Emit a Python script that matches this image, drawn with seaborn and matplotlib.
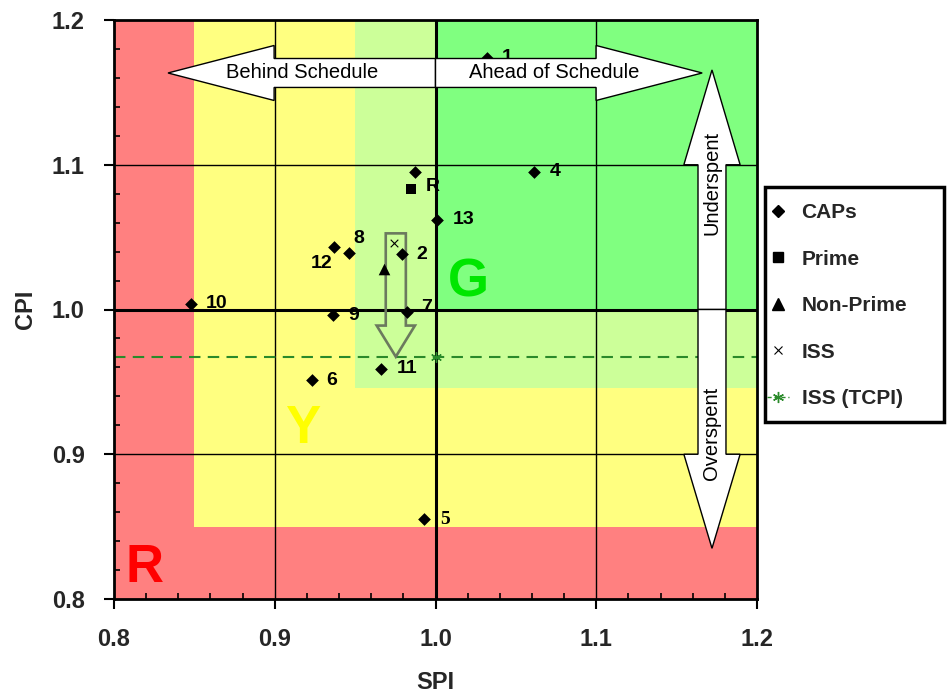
import numpy as np
import pandas as pd
import matplotlib
matplotlib.use("Agg")
import matplotlib.pyplot as plt
import seaborn as sns
from matplotlib.patches import Rectangle, FancyArrow
from matplotlib.lines import Line2D
from matplotlib.ticker import MultipleLocator

# ---------------- data ----------------
cap_labels = ["1", "2", "4", "5", "6", "7", "8", "9", "10", "11", "12", "13", ""]
cap_spi = [1.032, 0.979, 1.061, 0.993, 0.923, 0.982, 0.946, 0.936, 0.848, 0.966, 0.937, 1.001, 0.987]
cap_cpi = [1.174, 1.038, 1.095, 0.855, 0.951, 0.998, 1.039, 0.996, 1.004, 0.959, 1.043, 1.062, 1.095]

prime_labels = ["R"]
prime_spi = [0.985]
prime_cpi = [1.083]

nonprime_spi = [0.968]
nonprime_cpi = [1.028]

iss_spi = [0.974]
iss_cpi = [1.046]

tcpi_spi = [1.000]
tcpi_cpi = [0.967]

legend_labels = ["CAPs", "Prime", "Non-Prime", "ISS", "ISS (TCPI)"]
x_ticks = [0.8, 0.9, 1.0, 1.1, 1.2]
y_ticks = [0.8, 0.9, 1.0, 1.1, 1.2]
x_tick_labels = ["0.8", "0.9", "1.0", "1.1", "1.2"]
y_tick_labels = ["0.8", "0.9", "1.0", "1.1", "1.2"]

# zone thresholds (lower-left corner of each zone, extends to upper-right)
zone_spi = [0.80, 0.85, 0.95, 1.00]
zone_cpi = [0.80, 0.85, 0.946, 1.00]
zone_colors = ["#ff8080", "#ffff80", "#ccff99", "#80ff80"]
zone_letters = ["R", "Y", "G"]

# ISS trend (start CPI -> TCPI)
trend_spi = 0.9753
trend_cpi_start = 1.0526
trend_cpi_end = 0.9674

# ---------------- styling ----------------
sns.set_theme(style="white")
plt.rcParams['font.family'] = ['Liberation Sans', 'DejaVu Sans']

W, H = 949, 695
fig = plt.figure(figsize=(W / 100, H / 100), dpi=100)
ax = fig.add_axes([114 / W, 96 / H, 643 / W, 579 / H])
ax.set_xlim(0.8, 1.2)
ax.set_ylim(0.8, 1.2)

# background zones
for x0, y0, c in zip(zone_spi, zone_cpi, zone_colors):
    ax.add_patch(Rectangle((x0, y0), 1.2 - x0, 1.2 - y0, facecolor=c,
                           edgecolor='none', zorder=0))

# grid lines
for v in x_ticks[1:-1]:
    ax.axvline(v, color='black', lw=2.2 if v == 1.0 else 1.0, zorder=1)
for v in y_ticks[1:-1]:
    ax.axhline(v, color='black', lw=2.2 if v == 1.0 else 1.0, zorder=1)

# TCPI dashed line
green = '#2a8a2a'
ax.axhline(tcpi_cpi[0], color=green, lw=1.5, ls=(0, (5.5, 3.5)), zorder=2)

# ISS trend arrow (outline)
ax.add_patch(FancyArrow(trend_spi, trend_cpi_start, 0, trend_cpi_end - trend_cpi_start,
                        width=0.0125, head_width=0.0238, head_length=0.0215,
                        length_includes_head=True, fill=False,
                        edgecolor='#6b7a5e', lw=1.9, zorder=2.5))

# points
sns.scatterplot(x=cap_spi, y=cap_cpi, marker='D', s=42, color='black',
                edgecolor='black', linewidth=0, zorder=3, ax=ax, legend=False)
sns.scatterplot(x=prime_spi, y=prime_cpi, marker='s', s=60, color='black',
                edgecolor='black', linewidth=0, zorder=3, ax=ax, legend=False)
sns.scatterplot(x=nonprime_spi, y=nonprime_cpi, marker='^', s=70, color='black',
                edgecolor='black', linewidth=0, zorder=3, ax=ax, legend=False)
sns.scatterplot(x=iss_spi, y=iss_cpi, marker='x', s=30, color='black',
                linewidth=0.8, zorder=3, ax=ax, legend=False)
sns.scatterplot(x=tcpi_spi, y=tcpi_cpi, marker=(6, 2, 0), s=50, color=green,
                linewidth=1.0, zorder=3, ax=ax, legend=False)

# point labels (offsets in pixels)
label_offsets = {"1": (15, 0), "2": (15, 0), "4": (16, 0), "5": (16, 0),
                 "6": (15, 0), "7": (15, 5), "8": (5, 15), "9": (16, 0),
                 "10": (15, 0), "11": (16, 0), "12": (-2, -16), "13": (16, 0),
                 "R": (14, 3)}
lab_kw = dict(fontsize=14, fontweight='bold', color='black', va='center',
              textcoords='offset points', zorder=3)
for lab, xs, ys in zip(cap_labels, cap_spi, cap_cpi):
    if not lab:
        continue
    dx, dy = label_offsets[lab]
    ha = 'right' if lab == "12" else 'left'
    kw = dict(lab_kw)
    if lab == "5":
        kw['family'] = ['Liberation Serif']
    ax.annotate(lab, (xs, ys), xytext=(dx * 0.72, dy * 0.72), ha=ha, **kw)
for lab, xs, ys in zip(prime_labels, prime_spi, prime_cpi):
    dx, dy = label_offsets[lab]
    ax.annotate(lab, (xs, ys), xytext=(dx * 0.72, dy * 0.72), ha='left', **lab_kw)

# zone letters
ax.text(1.0206, 1.0187, zone_letters[2], color='#00e600', fontsize=38,
        fontweight='bold', ha='center', va='center', zorder=2)
ax.text(0.9176, 0.9174, zone_letters[1], color='#ffff00', fontsize=38,
        fontweight='bold', ha='center', va='center', zorder=2)
ax.text(0.819, 0.8215, zone_letters[0], color='#ff0000', fontsize=38,
        fontweight='bold', ha='center', va='center', zorder=2)

# schedule / cost arrows
arr_kw = dict(length_includes_head=True, facecolor='white', edgecolor='black',
              lw=1.0, zorder=5)
hy = 1.1634
ax.add_patch(FancyArrow(1.0, hy, 0.8336 - 1.0, 0, width=0.02, head_width=0.038,
                        head_length=0.066, **arr_kw))
ax.add_patch(FancyArrow(1.0, hy, 1.1659 - 1.0, 0, width=0.02, head_width=0.038,
                        head_length=0.066, **arr_kw))
vx = 1.172
ax.add_patch(FancyArrow(vx, 1.0, 0, 1.1655 - 1.0, width=0.0174, head_width=0.035,
                        head_length=0.0655, **arr_kw))
ax.add_patch(FancyArrow(vx, 1.0, 0, 0.835 - 1.0, width=0.0174, head_width=0.035,
                        head_length=0.065, **arr_kw))
txt_kw = dict(fontsize=14.5, color='black', ha='center', va='center', zorder=6)
ax.text(0.9173, hy, "Behind Schedule", **txt_kw)
ax.text(1.0738, hy, "Ahead of Schedule", **txt_kw)
ax.text(vx, 1.0877, "Underspent", rotation=90, **txt_kw)
ax.text(vx, 0.9147, "Overspent", rotation=90, **txt_kw)

# axes / ticks
ax.set_xticks(x_ticks)
ax.set_xticklabels(x_tick_labels)
ax.set_yticks(y_ticks)
ax.set_yticklabels(y_tick_labels)
ax.xaxis.set_minor_locator(MultipleLocator(0.02))
ax.yaxis.set_minor_locator(MultipleLocator(0.02))
ax.tick_params(which='major', direction='out', length=7, width=1.5,
               color='black', labelsize=17, pad=14, bottom=True, left=True)
ax.tick_params(which='minor', direction='in', length=4, width=1.2,
               color='black', bottom=True, left=True)
for t in ax.get_xticklabels() + ax.get_yticklabels():
    t.set_fontweight('bold')
for s in ax.spines.values():
    s.set_visible(True)
    s.set_color('black')
    s.set_linewidth(2.0)
    s.set_zorder(7)

ax.set_xlabel("SPI", fontsize=17, fontweight='bold')
ax.set_ylabel("CPI", fontsize=17, fontweight='bold')
ax.xaxis.set_label_coords(0.5, -0.124)
ax.yaxis.set_label_coords(-0.12, 0.5)

# legend
handles = [
    Line2D([], [], marker='D', color='black', ls='none', markersize=6),
    Line2D([], [], marker='s', color='black', ls='none', markersize=7.5),
    Line2D([], [], marker='^', color='black', ls='none', markersize=8),
    Line2D([], [], marker='x', color='black', ls='none', markersize=6, mew=0.8),
    Line2D([], [], marker=(6, 2, 0), color=green, ls=(0, (3, 2)), lw=1.0,
           markersize=8, mew=1.0),
]
fig.add_artist(Rectangle((765 / W, 1 - 422 / H), 179 / W, 235 / H,
                         transform=fig.transFigure, facecolor='white',
                         edgecolor='black', lw=2.5, zorder=1))
leg = fig.legend(handles, legend_labels, loc='upper left',
                 bbox_to_anchor=(763 / W, 1 - 199 / H), frameon=False,
                 prop=dict(weight='bold', size=15), handlelength=1.05,
                 handletextpad=0.6, labelspacing=1.32, borderaxespad=0,
                 borderpad=0.2)
leg.set_zorder(2)

fig.savefig("out.png", dpi=100)
